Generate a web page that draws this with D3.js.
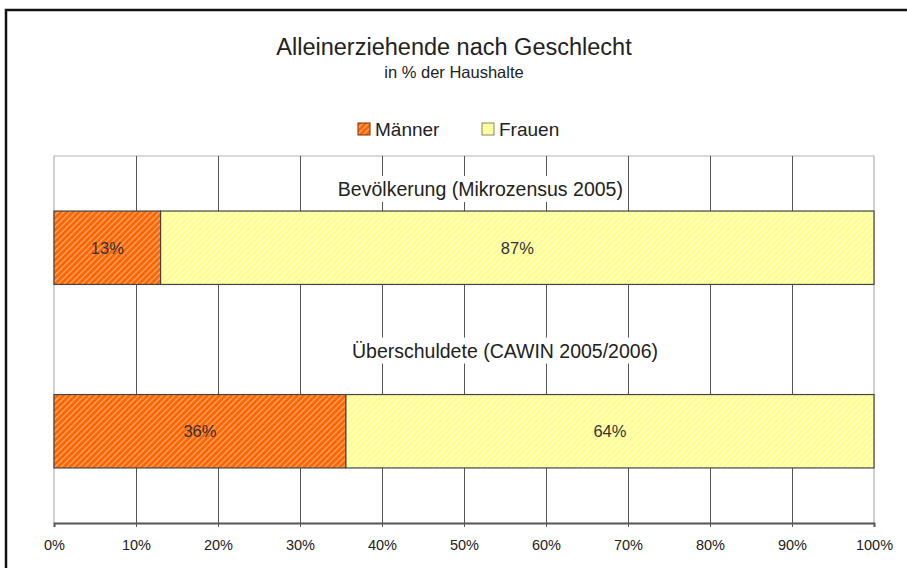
<!DOCTYPE html>
<html>
<head>
<meta charset="utf-8">
<script src="https://cdn.jsdelivr.net/npm/d3@7"></script>
<style>
  html, body { margin: 0; padding: 0; background: #fff; }
  svg { display: block; font-family: "Liberation Sans", Arial, sans-serif; }
</style>
</head>
<body>
<svg id="chart" width="907" height="568"></svg>
<script>
// ---- data ----
const categories = ["Bevölkerung (Mikrozensus 2005)", "Überschuldete (CAWIN 2005/2006)"];
const seriesNames = ["Männer", "Frauen"];
const maenner = [0.13, 0.356];
const frauen = [0.87, 0.644];
const tickValues = [0, 0.1, 0.2, 0.3, 0.4, 0.5, 0.6, 0.7, 0.8, 0.9, 1.0];

const svg = d3.select("#chart");
const W = 907, H = 568;
const m = { left: 54, right: 33, top: 156, bottom: 45 };
const plotL = m.left, plotR = W - m.right, plotT = m.top, plotB = H - m.bottom;

// patterns
const defs = svg.append("defs");
function hatch(id, base, stripe) {
  const p = defs.append("pattern").attr("id", id).attr("patternUnits", "userSpaceOnUse")
    .attr("width", 6).attr("height", 6);
  p.append("rect").attr("width", 6).attr("height", 6).attr("fill", base);
  p.append("path").attr("d", "M0,6 L6,0 M-1,1 L1,-1 M5,7 L7,5")
    .attr("stroke", stripe).attr("stroke-width", 1.4);
}
hatch("hm", "#FF6600", "#FFA466");
hatch("hf", "#FFFF8C", "#FFFFD2");
const fills = ["url(#hm)", "url(#hf)"];

// outer border
svg.append("rect").attr("x", 6).attr("y", 10).attr("width", W + 10).attr("height", H + 10)
  .attr("fill", "none").attr("stroke", "#111").attr("stroke-width", 2.5);

// titles
svg.append("text").attr("x", 454).attr("y", 55).attr("text-anchor", "middle")
  .attr("font-size", 23.5).attr("fill", "#222").text("Alleinerziehende nach Geschlecht");
svg.append("text").attr("x", 454).attr("y", 78).attr("text-anchor", "middle")
  .attr("font-size", 16.5).attr("fill", "#222").text("in % der Haushalte");

// legend
const legX = [358, 482];
seriesNames.forEach((s, i) => {
  svg.append("rect").attr("x", legX[i]).attr("y", 123).attr("width", 12).attr("height", 12)
    .attr("fill", fills[i]).attr("stroke", i === 0 ? "#7a3000" : "#888860").attr("stroke-width", 1);
  svg.append("text").attr("x", legX[i] + 17).attr("y", 136).attr("font-size", 19)
    .attr("fill", "#222").text(s);
});

// scales
const x = d3.scaleLinear().domain([0, 1]).range([plotL, plotR]);
const y = d3.scaleBand().domain(categories).range([plotT, plotB]).paddingInner(0.6).paddingOuter(0.3);

// plot area border (gray)
svg.append("path")
  .attr("d", `M${plotL},${plotB} L${plotL},${plotT} L${plotR},${plotT} L${plotR},${plotB}`)
  .attr("fill", "none").attr("stroke", "#b4b4b4").attr("stroke-width", 1.2);

// gridlines
svg.append("g").selectAll("line").data(tickValues.slice(1, -1)).join("line")
  .attr("x1", d => Math.round(x(d)) + 0.5).attr("x2", d => Math.round(x(d)) + 0.5)
  .attr("y1", plotT).attr("y2", plotB)
  .attr("stroke", "#555").attr("stroke-width", 1);

// category labels (white boxes)
const labelOffsets = [0.52, 0.55];
const labelRise = [15, 37];
categories.forEach((c, i) => {
  const cx = x(labelOffsets[i]);
  const by = y(c) - labelRise[i];
  const t = svg.append("text").attr("x", cx).attr("y", by).attr("text-anchor", "middle")
    .attr("font-size", 19.5).attr("fill", "#222").text(c);
  const bb = t.node().getBBox();
  svg.insert("rect", () => t.node())
    .attr("x", bb.x - 4).attr("y", bb.y - 2).attr("width", bb.width + 8).attr("height", bb.height + 4)
    .attr("fill", "#fff");
});

// stacked bars
const rows = categories.map((c, i) => ({ cat: c, vals: [maenner[i], frauen[i]] }));
rows.forEach(r => {
  let acc = 0;
  r.vals.forEach((v, j) => {
    const x0 = x(acc), x1 = x(acc + v);
    svg.append("rect").attr("x", x0).attr("y", y(r.cat)).attr("width", x1 - x0).attr("height", y.bandwidth())
      .attr("fill", fills[j]).attr("stroke", "#444").attr("stroke-width", 1.2);
    svg.append("text").attr("x", (x0 + x1) / 2).attr("y", y(r.cat) + y.bandwidth() / 2 + 6)
      .attr("text-anchor", "middle").attr("font-size", 16.5).attr("fill", "#333")
      .text(d3.format(".0%")(v));
    acc += v;
  });
});

// x axis
const axis = d3.axisBottom(x).tickValues(tickValues).tickFormat(d3.format(".0%")).tickSize(4).tickPadding(13);
const ag = svg.append("g").attr("transform", `translate(0,${plotB})`).call(axis);
ag.select(".domain").attr("stroke", "#555").attr("stroke-width", 2);
ag.selectAll(".tick line").attr("stroke", "#555");
ag.selectAll(".tick text").attr("font-size", 14.5).attr("fill", "#222")
  .attr("font-family", "'Liberation Sans', Arial, sans-serif");
</script>
</body>
</html>
